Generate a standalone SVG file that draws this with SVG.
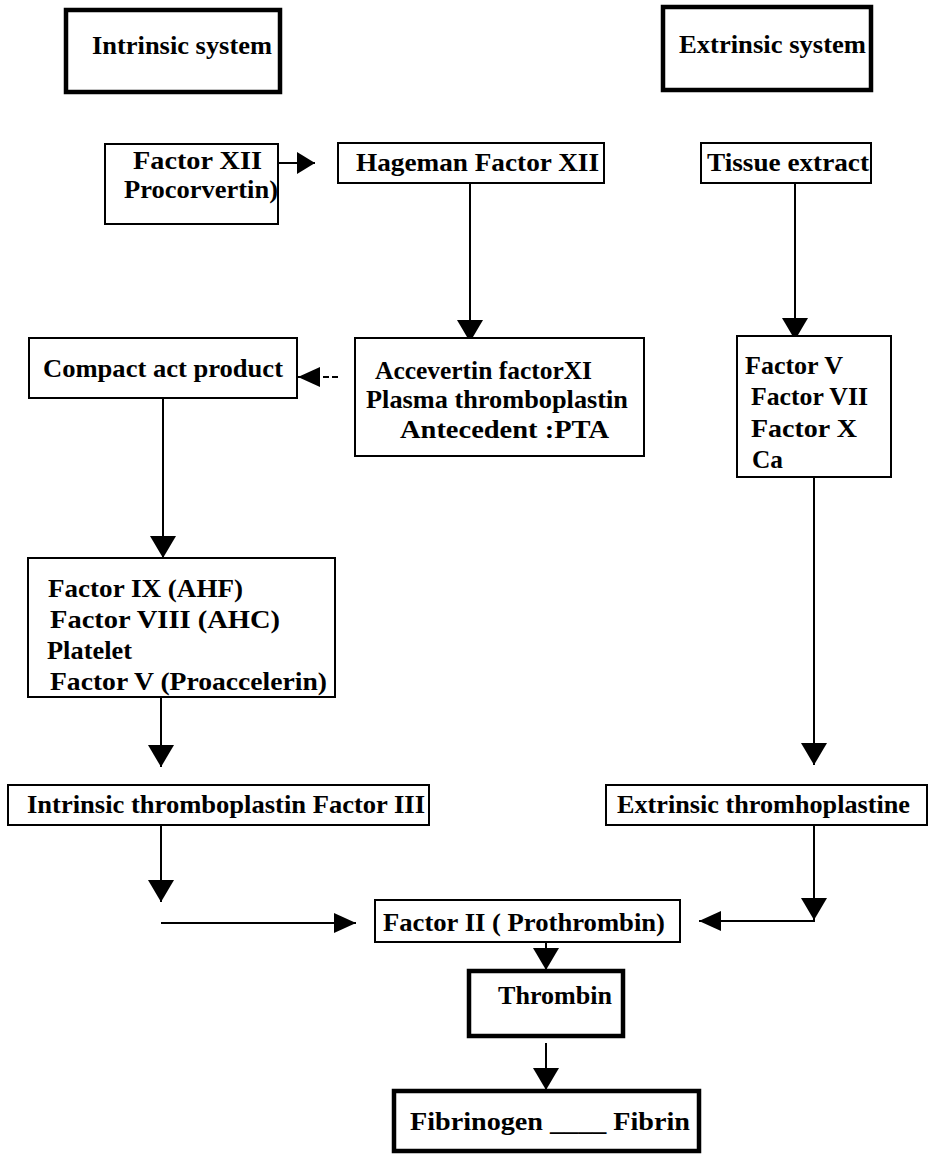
<svg xmlns="http://www.w3.org/2000/svg" width="930" height="1155" viewBox="0 0 930 1155">
<style>
.box{fill:#fff;stroke:#000;stroke-width:2}
.thick{fill:#fff;stroke:#000;stroke-width:4.5}
.t{font-family:"Liberation Serif","Times New Roman",serif;font-weight:bold;font-size:26px;fill:#000}
.c{fill:none;stroke:#000;stroke-width:2}
</style>
<defs>
<marker id="big" viewBox="0 0 22 26" refX="22" refY="13" markerWidth="22" markerHeight="26" markerUnits="userSpaceOnUse" orient="auto"><path d="M0,0 L22,13 L0,26 Z" fill="#000"/></marker>
<marker id="mid" viewBox="0 0 22 20" refX="22" refY="10" markerWidth="22" markerHeight="20" markerUnits="userSpaceOnUse" orient="auto"><path d="M0,0 L22,10 L0,20 Z" fill="#000"/></marker>
<marker id="sm" viewBox="0 0 18 22" refX="18" refY="11" markerWidth="18" markerHeight="22" markerUnits="userSpaceOnUse" orient="auto"><path d="M0,0 L18,11 L0,22 Z" fill="#000"/></marker>
</defs>
<rect width="930" height="1155" fill="#fff"/>
<g id="connectors">
<path class="c" d="M278,163 H315" marker-end="url(#sm)"/>
<path class="c" d="M470,183 V342" marker-end="url(#big)"/>
<path class="c" d="M795,183 V340" marker-end="url(#big)"/>
<path class="c" d="M338,377 H298" stroke-dasharray="6,3" marker-end="url(#mid)"/>
<path class="c" d="M163,398 V558" marker-end="url(#big)"/>
<path class="c" d="M161,697 V767" marker-end="url(#big)"/>
<path class="c" d="M814,477 V765" marker-end="url(#big)"/>
<path class="c" d="M161,825 V902" marker-end="url(#big)"/>
<path class="c" d="M161,923 H356" marker-end="url(#mid)"/>
<path class="c" d="M814,825 V920" marker-end="url(#big)"/>
<path class="c" d="M815,921 H699" marker-end="url(#mid)"/>
<path class="c" d="M546,942 V970" marker-end="url(#big)"/>
<path class="c" d="M546,1043 V1090" marker-end="url(#big)"/>
</g>
<g id="intrinsic-system"><rect class="thick" x="66" y="10" width="214" height="82"/><text class="t" x="92" y="54" textLength="180" lengthAdjust="spacingAndGlyphs">Intrinsic system</text></g>
<g id="extrinsic-system"><rect class="thick" x="663" y="7" width="208" height="83"/><text class="t" x="679" y="53" textLength="187" lengthAdjust="spacingAndGlyphs">Extrinsic system</text></g>
<g id="factor-xii"><rect class="box" x="105" y="144" width="173" height="80"/><text class="t" x="133" y="169" textLength="129" lengthAdjust="spacingAndGlyphs">Factor XII</text><text class="t" x="124" y="198" textLength="154" lengthAdjust="spacingAndGlyphs">Procorvertin)</text></g>
<g id="hageman"><rect class="box" x="338" y="143" width="266" height="40"/><text class="t" x="356" y="171" textLength="243" lengthAdjust="spacingAndGlyphs">Hageman Factor XII</text></g>
<g id="tissue-extract"><rect class="box" x="701" y="143" width="170" height="40"/><text class="t" x="707" y="171" textLength="162" lengthAdjust="spacingAndGlyphs">Tissue extract</text></g>
<g id="compact"><rect class="box" x="29" y="338" width="268" height="60"/><text class="t" x="43" y="377" textLength="240" lengthAdjust="spacingAndGlyphs">Compact act product</text></g>
<g id="accevertin"><rect class="box" x="355" y="338" width="289" height="118"/><text class="t" x="375" y="379" textLength="217" lengthAdjust="spacingAndGlyphs">Accevertin factorXI</text><text class="t" x="366" y="408" textLength="262" lengthAdjust="spacingAndGlyphs">Plasma thromboplastin</text><text class="t" x="400" y="438" textLength="209" lengthAdjust="spacingAndGlyphs">Antecedent :PTA</text></g>
<g id="factor-v-group"><rect class="box" x="737" y="336" width="154" height="141"/><text class="t" x="745" y="374" textLength="98" lengthAdjust="spacingAndGlyphs">Factor V</text><text class="t" x="751" y="405" textLength="117" lengthAdjust="spacingAndGlyphs">Factor VII</text><text class="t" x="751" y="437" textLength="106" lengthAdjust="spacingAndGlyphs">Factor X</text><text class="t" x="752" y="468" textLength="31" lengthAdjust="spacingAndGlyphs">Ca</text></g>
<g id="factor-ix-group"><rect class="box" x="28" y="558" width="307" height="139"/><text class="t" x="48" y="597" textLength="195" lengthAdjust="spacingAndGlyphs">Factor IX (AHF)</text><text class="t" x="50" y="628" textLength="230" lengthAdjust="spacingAndGlyphs">Factor VIII (AHC)</text><text class="t" x="47" y="659" textLength="85" lengthAdjust="spacingAndGlyphs">Platelet</text><text class="t" x="50" y="690" textLength="277" lengthAdjust="spacingAndGlyphs">Factor V (Proaccelerin)</text></g>
<g id="intrinsic-thromboplastin"><rect class="box" x="8" y="785" width="421" height="40"/><text class="t" x="27" y="813" textLength="398" lengthAdjust="spacingAndGlyphs">Intrinsic thromboplastin Factor III</text></g>
<g id="extrinsic-thromboplastine"><rect class="box" x="606" y="785" width="321" height="40"/><text class="t" x="617" y="813" textLength="293" lengthAdjust="spacingAndGlyphs">Extrinsic thromhoplastine</text></g>
<g id="factor-ii"><rect class="box" x="375" y="900" width="305" height="42"/><text class="t" x="383" y="931" textLength="282" lengthAdjust="spacingAndGlyphs">Factor II ( Prothrombin)</text></g>
<g id="thrombin"><rect class="thick" x="469" y="971" width="154" height="65"/><text class="t" x="498" y="1004" textLength="114" lengthAdjust="spacingAndGlyphs">Thrombin</text></g>
<g id="fibrinogen"><rect class="thick" x="394" y="1091" width="305" height="60"/><text class="t" x="410" y="1130" textLength="280" lengthAdjust="spacingAndGlyphs">Fibrinogen ____ Fibrin</text></g>
</svg>
